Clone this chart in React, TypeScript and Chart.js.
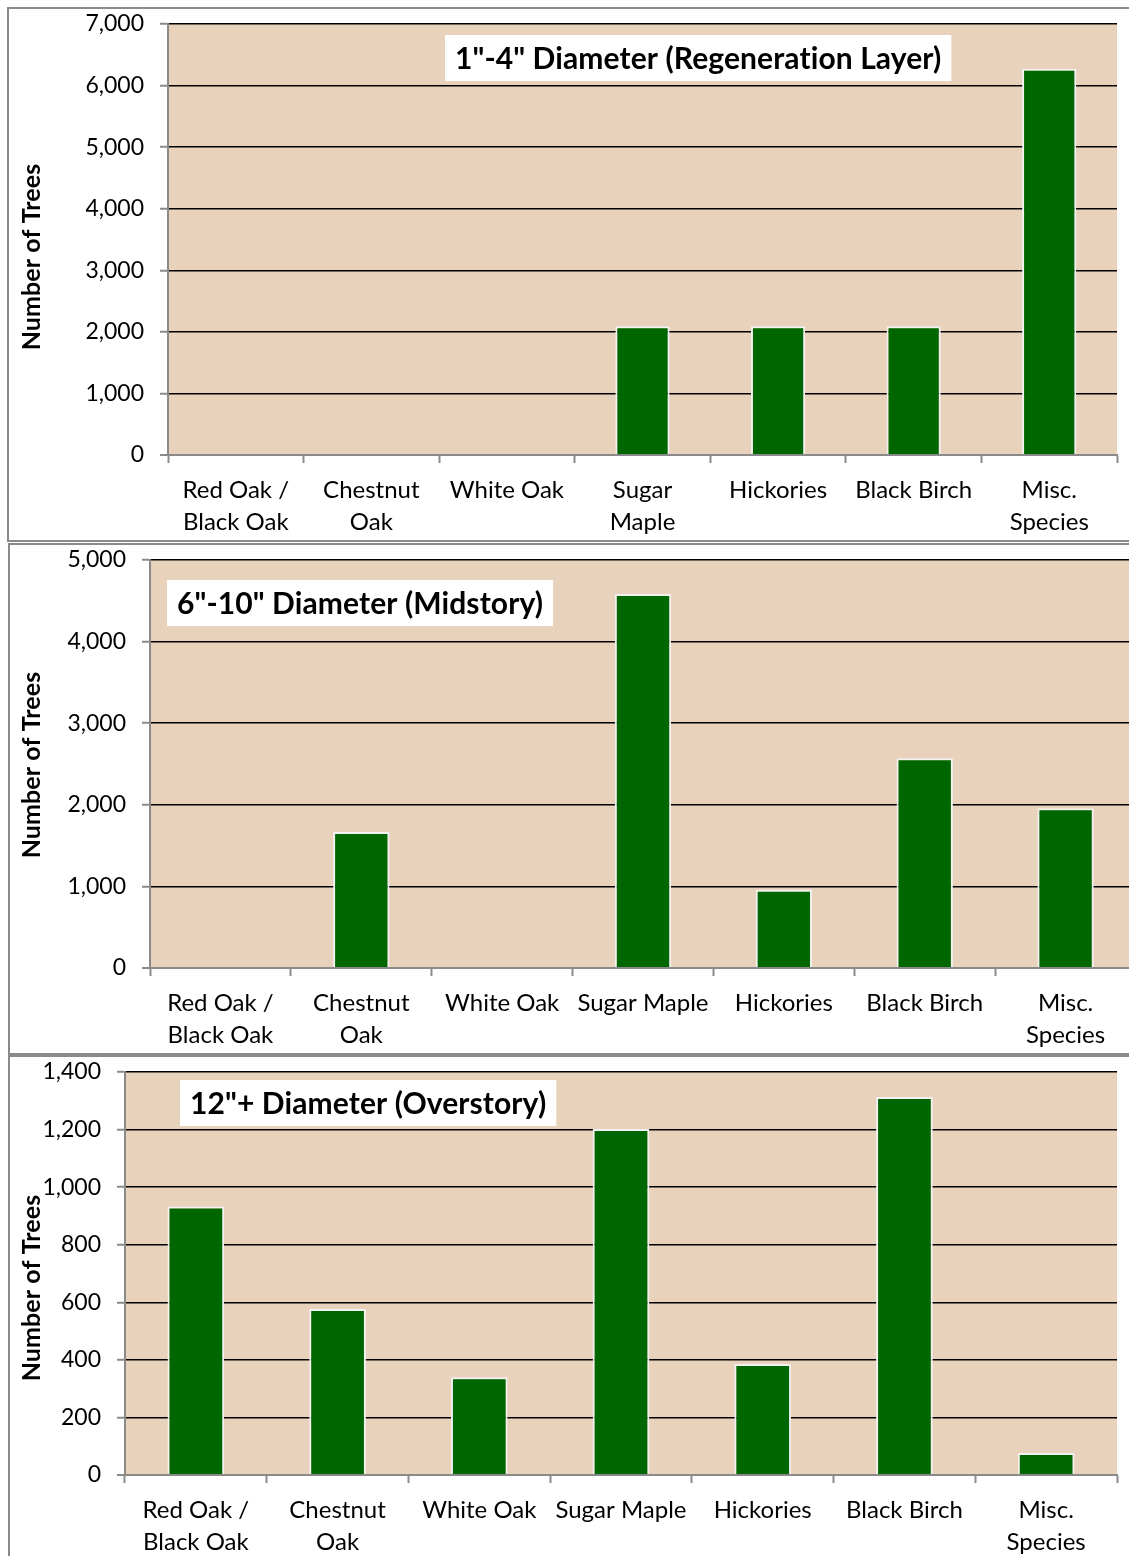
import React, { useEffect, useRef } from "react";
import { Chart, registerables } from "chart.js";

Chart.register(...registerables);

const categoriesRegen = [
  ["Red Oak /", "Black Oak"],
  ["Chestnut", "Oak"],
  "White Oak",
  ["Sugar", "Maple"],
  "Hickories",
  "Black Birch",
  ["Misc.", "Species"],
];
const categoriesOther = [
  ["Red Oak /", "Black Oak"],
  ["Chestnut", "Oak"],
  "White Oak",
  "Sugar Maple",
  "Hickories",
  "Black Birch",
  ["Misc.", "Species"],
];

const regenValues = [0, 0, 0, 2090, 2090, 2090, 6275];
const midValues = [0, 1667, 0, 4583, 958, 2570, 1958];
const overValues = [933, 577, 340, 1202, 386, 1313, 76];

const regenAxis = { max: 7000, step: 1000 };
const midAxis = { max: 5000, step: 1000 };
const overAxis = { max: 1400, step: 200 };

const regenTitle = '1"-4" Diameter (Regeneration Layer)';
const midTitle = '6"-10" Diameter (Midstory)';
const overTitle = '12"+ Diameter (Overstory)';
const axisTitle = "Number of Trees";

const FONT = "Lato, 'Open Sans', sans-serif";
const GREEN = "#006600";
const PLOT_BG = "#E9D2BB";
const GRAY = "#8a8a8a";

const decorPlugin = {
  id: "decor",
  beforeDraw(chart: any) {
    const { ctx, chartArea } = chart;
    ctx.save();
    ctx.fillStyle = PLOT_BG;
    ctx.fillRect(chartArea.left, chartArea.top, chartArea.right - chartArea.left, chartArea.bottom - chartArea.top);
    ctx.restore();
  },
  afterDraw(chart: any, _args: any, opts: any) {
    const { ctx } = chart;
    ctx.save();
    ctx.font = `bold ${opts.size}px ${FONT}`;
    try {
      (ctx as any).letterSpacing = "0.1px";
    } catch (e) {}
    const w = ctx.measureText(opts.text).width;
    ctx.fillStyle = "#ffffff";
    ctx.fillRect(opts.x, opts.y, w + 2 * opts.padX, opts.h);
    ctx.fillStyle = "#000000";
    ctx.textBaseline = "middle";
    ctx.textAlign = "left";
    ctx.fillText(opts.text, opts.x + opts.padX, opts.y + opts.h / 2 + 1);
    ctx.translate(opts.axisX, opts.axisY);
    ctx.rotate(-Math.PI / 2);
    ctx.textAlign = "center";
    ctx.font = `bold 25px ${FONT}`;
    ctx.fillText(axisTitle, 0, 0);
    ctx.restore();
  },
};

type PanelProps = {
  labels: any[];
  values: number[];
  axis: { max: number; step: number };
  width: number;
  height: number;
  plotLeft: number;
  plotRight: number;
  plotTop: number;
  plotBottom: number;
  title: string;
  titleX: number;
  titleY: number;
  axisY: number;
};

function Panel(p: PanelProps) {
  const ref = useRef<HTMLCanvasElement | null>(null);
  useEffect(() => {
    if (!ref.current) return;
    const chart = new Chart(ref.current, {
      type: "bar",
      data: {
        labels: p.labels,
        datasets: [
          {
            data: p.values,
            backgroundColor: GREEN,
            borderColor: "#f2f2f2",
            borderWidth: 2,
            barPercentage: 0.4,
            categoryPercentage: 1,
          },
        ],
      },
      plugins: [decorPlugin],
      options: {
        responsive: false,
        animation: false,
        layout: {
          padding: { left: 0, top: p.plotTop, right: p.width - p.plotRight, bottom: 0 },
        },
        plugins: {
          legend: { display: false },
          tooltip: { enabled: false },
          title: { display: false },
          decor: {
            text: p.title,
            size: 30,
            x: p.titleX,
            y: p.titleY,
            h: 46,
            padX: 10,
            axisX: 32,
            axisY: p.axisY,
          },
        } as any,
        scales: {
          x: {
            offset: true,
            grid: {
              offset: true,
              drawOnChartArea: false,
              drawTicks: true,
              tickLength: 8,
              tickColor: GRAY,
              tickWidth: 2,
            },
            border: { display: true, color: GRAY, width: 2 },
            ticks: {
              color: "#000",
              font: { family: FONT, size: 24, lineHeight: 1.35 },
              padding: 11,
              maxRotation: 0,
              autoSkip: false,
            },
            afterFit(scale: any) {
              scale.height = p.height - p.plotBottom;
              scale.paddingLeft = 0;
              scale.paddingRight = 0;
            },
          },
          y: {
            min: 0,
            max: p.axis.max,
            grid: {
              color: (c: any) => (c.tick && c.tick.value === 0 ? GRAY : "#000"),
              lineWidth: (c: any) => (c.tick && c.tick.value === 0 ? 2 : 1.5),
              drawTicks: true,
              tickLength: 8,
              tickColor: GRAY,
              tickWidth: 2,
            },
            border: { display: true, color: GRAY, width: 2 },
            ticks: {
              stepSize: p.axis.step,
              color: "#000",
              font: { family: FONT, size: 23 },
              padding: 16,
              callback: (v: any) => Number(v).toLocaleString("en-US"),
            },
            afterFit(scale: any) {
              scale.width = p.plotLeft;
              scale.paddingTop = 0;
              scale.paddingBottom = 0;
            },
          },
        },
      },
    });
    return () => chart.destroy();
  }, []);
  return (
    <canvas
      ref={ref}
      width={p.width}
      height={p.height}
      style={{ display: "block", width: p.width, height: p.height }}
    />
  );
}

const frame = (left: number, top: number, height: number): React.CSSProperties => ({
  position: "absolute",
  left,
  top,
  width: 1300,
  height,
  border: `2px solid ${GRAY}`,
  boxSizing: "border-box",
});

export default function App() {
  return (
    <div
      style={{
        position: "absolute",
        left: 0,
        top: 0,
        width: 1129,
        height: 1556,
        overflow: "hidden",
        background: "#fff",
      }}
    >
      <div style={frame(7, 7, 535)} />
      <div style={frame(8, 543, 512)} />
      <div style={frame(8, 1055, 560)} />
      <div style={{ position: "absolute", left: 0, top: 0 }}>
        <Panel
          labels={categoriesRegen}
          values={regenValues}
          axis={regenAxis}
          width={1129}
          height={540}
          plotLeft={168}
          plotRight={1117}
          plotTop={24}
          plotBottom={455}
          title={regenTitle}
          titleX={445}
          titleY={35}
          axisY={257}
        />
      </div>
      <div style={{ position: "absolute", left: 0, top: 543 }}>
        <Panel
          labels={categoriesOther}
          values={midValues}
          axis={midAxis}
          width={1150}
          height={512}
          plotLeft={150}
          plotRight={1136}
          plotTop={17}
          plotBottom={425}
          title={midTitle}
          titleX={167}
          titleY={37}
          axisY={222}
        />
      </div>
      <div style={{ position: "absolute", left: 0, top: 1055 }}>
        <Panel
          labels={categoriesOther}
          values={overValues}
          axis={overAxis}
          width={1129}
          height={501}
          plotLeft={125}
          plotRight={1117}
          plotTop={17}
          plotBottom={420}
          title={overTitle}
          titleX={180}
          titleY={25}
          axisY={233}
        />
      </div>
    </div>
  );
}
